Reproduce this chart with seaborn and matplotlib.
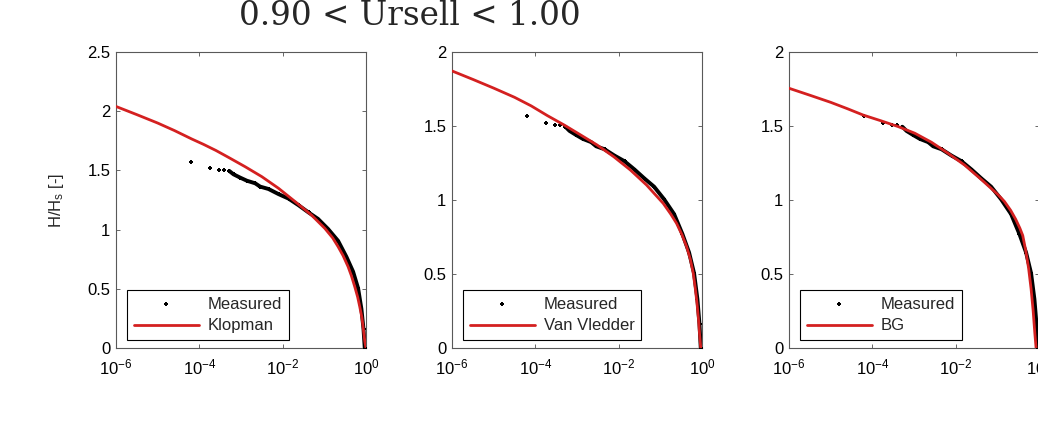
import numpy as np
import pandas as pd
import matplotlib
matplotlib.use("Agg")
import matplotlib.pyplot as plt
import seaborn as sns
from matplotlib.ticker import FixedLocator, LogFormatterMathtext, NullLocator

# exceedance probability given as log10(P)
meas_sparse_logp = [-4.19, -3.75, -3.54, -3.40, -3.28]
meas_sparse_h = [1.568, 1.520, 1.505, 1.505, 1.495]

meas_dense_logp = [-3.28, -3.18, -3.02, -2.86, -2.66, -2.54, -2.34, -2.10, -1.86, -1.62,
                   -1.38, -1.15, -0.91, -0.67, -0.47, -0.31, -0.19, -0.11, -0.06, -0.03]
meas_dense_h = [1.495, 1.467, 1.439, 1.413, 1.391, 1.363, 1.343, 1.300, 1.262, 1.206,
                1.145, 1.090, 1.005, 0.905, 0.770, 0.645, 0.505, 0.330, 0.160, 0.0]

klop_logp = [-6.0, -5.5, -5.0, -4.6, -4.18, -3.90, -3.60, -3.30, -2.90, -2.50, -2.10,
             -1.70, -1.31, -0.99, -0.80, -0.67, -0.55, -0.43, -0.35, -0.27, -0.20,
             -0.15, -0.10, -0.07, -0.03, 0.0]
klop_h = [2.040, 1.971, 1.900, 1.837, 1.765, 1.720, 1.668, 1.610, 1.531, 1.447, 1.349,
          1.236, 1.123, 1.011, 0.930, 0.856, 0.780, 0.687, 0.610, 0.518, 0.430,
          0.349, 0.260, 0.180, 0.060, 0.0]

vv_logp = [-6.0, -5.5, -5.0, -4.5, -4.10, -3.71, -3.31, -2.91, -2.52, -2.12, -1.72,
           -1.33, -0.93, -0.75, -0.61, -0.48, -0.37, -0.28, -0.21, -0.16, -0.12,
           -0.08, -0.06, -0.03]
vv_h = [1.872, 1.815, 1.756, 1.694, 1.636, 1.570, 1.507, 1.439, 1.372, 1.293, 1.203,
        1.101, 0.977, 0.905, 0.842, 0.765, 0.685, 0.600, 0.505, 0.400, 0.302,
        0.180, 0.099, 0.0]

bg_logp = [-6.0, -5.5, -5.0, -4.6, -4.22, -3.78, -3.38, -2.98, -2.58, -2.18, -1.78,
           -1.37, -0.98, -0.83, -0.68, -0.56, -0.46, -0.39, -0.32, -0.25, -0.19,
           -0.14, -0.10, -0.07]
bg_h = [1.755, 1.708, 1.660, 1.617, 1.574, 1.534, 1.496, 1.451, 1.390, 1.315, 1.235,
        1.135, 1.035, 0.990, 0.930, 0.870, 0.810, 0.760, 0.660, 0.540, 0.400,
        0.250, 0.100, 0.0]

models = [("Klopman", klop_logp, klop_h, 2.5),
          ("Van Vledder", vv_logp, vv_h, 2.0),
          ("BG", bg_logp, bg_h, 2.0)]

title = "0.90 < Ursell < 1.00"
ylabel = "H/H$_s$ [-]"
xticks = [1e-6, 1e-4, 1e-2, 1e0]

sns.set_theme(style="ticks")
plt.rcParams["font.family"] = ["Liberation Sans", "DejaVu Sans"]
plt.rcParams["mathtext.default"] = "regular"

red = "#d42020"
W, H = 1038, 425
fig = plt.figure(figsize=(W / 100, H / 100), dpi=100)

lefts = [116, 452, 789]
for (i, (name, lp, hv, ytop)) in enumerate(models):
    ax = fig.add_axes([lefts[i] / W, (H - 348) / H, 250 / W, 296 / H])
    ax.set_xscale("log")

    dense = pd.DataFrame({"p": 10.0 ** np.array(meas_dense_logp), "h": meas_dense_h})
    pts = pd.DataFrame({"p": 10.0 ** np.array(meas_sparse_logp + meas_dense_logp),
                        "h": meas_sparse_h + meas_dense_h})
    model = pd.DataFrame({"p": 10.0 ** np.array(lp), "h": hv})

    # dense run of measured points drawn as a thick black trace
    sns.lineplot(data=dense, x="p", y="h", ax=ax, color="black", lw=2.8,
                 estimator=None, sort=False)
    sns.scatterplot(data=pts, x="p", y="h", ax=ax, color="black", marker="P",
                    s=10, linewidth=0, zorder=3, label="Measured")
    sns.lineplot(data=model, x="p", y="h", ax=ax, color=red, lw=2.0,
                 estimator=None, sort=False, label=name, zorder=4)

    ax.set_xlim(1e-6, 1)
    ax.set_ylim(0, ytop)
    ax.xaxis.set_major_locator(FixedLocator(xticks))
    ax.xaxis.set_major_formatter(LogFormatterMathtext())
    ax.xaxis.set_minor_locator(NullLocator())
    yt = np.arange(0, ytop + 0.01, 0.5)
    ax.set_yticks(yt)
    ax.set_yticklabels([f"{v:g}" for v in yt])
    ax.tick_params(direction="in", length=3, width=0.6, top=True, right=True,
                   labelsize=12, colors="0.3", labelcolor="black")
    ax.tick_params(axis="x", pad=7)
    ax.tick_params(axis="y", pad=4)
    for s in ax.spines.values():
        s.set_color("0.35")
        s.set_linewidth(0.8)
    ax.set_xlabel("")
    if i == 0:
        ax.set_ylabel(ylabel, fontsize=12, labelpad=15)
    else:
        ax.set_ylabel("")

    handles, labels = ax.get_legend_handles_labels()
    leg = ax.legend(handles, labels, loc="lower left", bbox_to_anchor=(0.044, 0.027),
                    borderaxespad=0, fontsize=12, frameon=True, fancybox=False,
                    edgecolor="black", framealpha=1, handlelength=3.9,
                    handletextpad=0.55, borderpad=0.4, labelspacing=0.4)
    leg.get_frame().set_linewidth(0.8)

fig.text(410 / W, 1 - 25 / H, title, ha="center", va="baseline",
         family="DejaVu Serif", fontsize=23.5)

fig.savefig("out.png", dpi=100)
